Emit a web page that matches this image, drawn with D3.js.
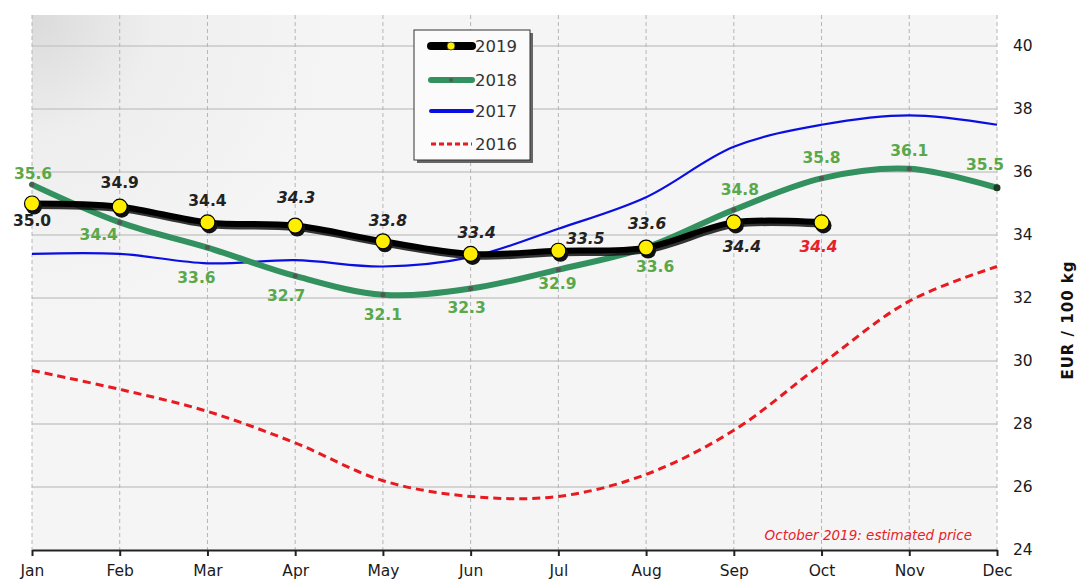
<!DOCTYPE html>
<html>
<head>
<meta charset="utf-8">
<script src="https://cdn.jsdelivr.net/npm/d3@7"></script>
<style>
  html, body { margin: 0; padding: 0; background: #fff; }
  svg { display: block; font-family: "DejaVu Sans", Verdana, sans-serif; }
</style>
</head>
<body>
<svg id="chart" width="1080" height="581"></svg>
<script>
// Monthly prices, EUR / 100 kg
const months = ["Jan", "Feb", "Mar", "Apr", "May", "Jun", "Jul", "Aug", "Sep", "Oct", "Nov", "Dec"];
const values2019 = [35.0, 34.9, 34.4, 34.3, 33.8, 33.4, 33.5, 33.6, 34.4, 34.4];
const values2018 = [35.6, 34.4, 33.6, 32.7, 32.1, 32.3, 32.9, 33.6, 34.8, 35.8, 36.1, 35.5];
const values2017 = [33.4, 33.4, 33.1, 33.2, 33.0, 33.3, 34.2, 35.2, 36.8, 37.5, 37.8, 37.5];
const values2016 = [29.7, 29.1, 28.4, 27.4, 26.2, 25.7, 25.7, 26.4, 27.8, 29.9, 31.9, 33.0];
const yTicks = [24, 26, 28, 30, 32, 34, 36, 38, 40];
const legendYears = ["2019", "2018", "2017", "2016"];
const noteText = "October 2019: estimated price";
const axisTitle = "EUR / 100 kg";

// Label offsets (dx, dy of text centre relative to the point)
const labelOffset2019 = [[0, 17], [0, -24], [0, -21], [1, -28], [5, -20], [6, -21], [27, -12], [1, -24], [8, 25], [-3, 25]];
const italic2019 = [false, false, false, true, true, true, true, true, true, true];
const labelOffset2018 = [[1, -11], [-21, 13], [-11, 30], [-9, 20], [0, 20], [-4, 19], [-1, 14], [9, 19], [6, -20], [0, -20], [0, -18], [-12, -23]];

const svg = d3.select("#chart");
const left = 32, right = 997, plotTop = 15, bottom = 550;

const x = d3.scalePoint().domain(months).range([left, right]);
const y = d3.scaleLinear().domain([24, 40]).range([bottom, 46]);

// Plot background with shaded top-left corner
const defs = svg.append("defs");
const grad = defs.append("radialGradient")
  .attr("id", "bgShade")
  .attr("gradientUnits", "userSpaceOnUse")
  .attr("cx", left).attr("cy", plotTop).attr("r", 300);
grad.append("stop").attr("offset", "0%").attr("stop-color", "#dadada");
grad.append("stop").attr("offset", "40%").attr("stop-color", "#eeeeee");
grad.append("stop").attr("offset", "100%").attr("stop-color", "#f5f5f5");

svg.append("rect")
  .attr("x", left).attr("y", plotTop)
  .attr("width", right - left).attr("height", bottom - plotTop)
  .attr("fill", "#f5f5f5");
svg.append("rect")
  .attr("x", left).attr("y", plotTop)
  .attr("width", right - left).attr("height", bottom - plotTop)
  .attr("fill", "url(#bgShade)");

// Horizontal grid
svg.append("g").selectAll("line")
  .data(yTicks.filter(d => d !== 24))
  .join("line")
  .attr("x1", left).attr("x2", right)
  .attr("y1", d => y(d)).attr("y2", d => y(d))
  .attr("stroke", "#c9c9c9").attr("stroke-width", 1.5);

// Vertical dashed grid
svg.append("g").selectAll("line")
  .data(months)
  .join("line")
  .attr("x1", d => x(d)).attr("x2", d => x(d))
  .attr("y1", plotTop).attr("y2", bottom)
  .attr("stroke", "#b5b5b5").attr("stroke-width", 1)
  .attr("stroke-dasharray", "4,3");

// Bottom axis
const xAxis = d3.axisBottom(x).tickSize(6).tickSizeOuter(0).tickPadding(9);
const gx = svg.append("g").attr("transform", `translate(0,${bottom})`).call(xAxis);
gx.select(".domain").attr("stroke", "#222").attr("stroke-width", 2);
gx.selectAll(".tick line").attr("stroke", "#222").attr("stroke-width", 2);
gx.selectAll(".tick text")
  .attr("font-size", 15.5).attr("fill", "#1a1a1a")
  .attr("font-family", "DejaVu Sans, Verdana, sans-serif");

// Right value axis (labels only)
const yAxis = d3.axisRight(y).tickValues(yTicks).tickSize(0).tickPadding(16);
const gy = svg.append("g").attr("transform", `translate(${right},0)`).call(yAxis);
gy.select(".domain").remove();
gy.selectAll(".tick text")
  .attr("font-size", 15.5).attr("fill", "#1a1a1a")
  .attr("font-family", "DejaVu Sans, Verdana, sans-serif");

svg.append("text")
  .attr("transform", "translate(1068,320) rotate(-90)")
  .attr("text-anchor", "middle")
  .attr("dominant-baseline", "central")
  .attr("font-size", 15).attr("font-weight", "bold").attr("fill", "#111")
  .attr("letter-spacing", 1)
  .text(axisTitle);

const line = d3.line()
  .x((d, i) => x(months[i]))
  .y(d => y(d))
  .curve(d3.curveCatmullRom.alpha(0.5));

// 2016
svg.append("path").datum(values2016)
  .attr("d", line).attr("fill", "none")
  .attr("stroke", "#e8191f").attr("stroke-width", 3)
  .attr("stroke-dasharray", "8,5");

// 2017
svg.append("path").datum(values2017)
  .attr("d", line).attr("fill", "none")
  .attr("stroke", "#0a0ee0").attr("stroke-width", 2.2);

// 2018
svg.append("path").datum(values2018)
  .attr("d", line).attr("fill", "none")
  .attr("stroke", "#33905f").attr("stroke-width", 6)
  .attr("stroke-linecap", "round");
svg.append("g").selectAll("circle")
  .data(values2018)
  .join("circle")
  .attr("cx", (d, i) => x(months[i]))
  .attr("cy", d => y(d))
  .attr("r", (d, i) => i === values2018.length - 1 ? 3.5 : 2.5)
  .attr("fill", (d, i) => i === values2018.length - 1 ? "#1f3a25" : "#555");

// 2019 with shadow
svg.append("path").datum(values2019)
  .attr("d", line).attr("fill", "none")
  .attr("transform", "translate(1.5,2.5)")
  .attr("stroke", "#111").attr("stroke-width", 6).attr("opacity", 0.85);
svg.append("path").datum(values2019)
  .attr("d", line).attr("fill", "none")
  .attr("stroke", "#000").attr("stroke-width", 6)
  .attr("stroke-linejoin", "round");
const m19 = svg.append("g");
m19.selectAll("circle.shadow")
  .data(values2019)
  .join("circle").attr("class", "shadow")
  .attr("cx", (d, i) => x(months[i]) + 2)
  .attr("cy", d => y(d) + 3)
  .attr("r", 8).attr("fill", "#111");
m19.selectAll("circle.dot")
  .data(values2019)
  .join("circle").attr("class", "dot")
  .attr("cx", (d, i) => x(months[i]))
  .attr("cy", d => y(d))
  .attr("r", 7.5).attr("fill", "#ffee00")
  .attr("stroke", "#000").attr("stroke-width", 1.2);

// 2018 value labels
svg.append("g").selectAll("text")
  .data(values2018)
  .join("text")
  .attr("x", (d, i) => x(months[i]) + labelOffset2018[i][0])
  .attr("y", (d, i) => y(d) + labelOffset2018[i][1])
  .attr("text-anchor", "middle").attr("dominant-baseline", "central")
  .attr("font-size", 15.5).attr("font-weight", "bold")
  .attr("fill", "#5aa84a")
  .text(d => d.toFixed(1));

// 2019 value labels
svg.append("g").selectAll("text")
  .data(values2019)
  .join("text")
  .attr("x", (d, i) => x(months[i]) + labelOffset2019[i][0])
  .attr("y", (d, i) => y(d) + labelOffset2019[i][1])
  .attr("text-anchor", "middle").attr("dominant-baseline", "central")
  .attr("font-size", 15.5).attr("font-weight", "bold")
  .attr("font-style", (d, i) => italic2019[i] ? "italic" : "normal")
  .attr("fill", (d, i) => i === values2019.length - 1 ? "#e8202a" : "#222")
  .text(d => d.toFixed(1));

// Note
svg.append("text")
  .attr("x", 972).attr("y", 535)
  .attr("text-anchor", "end").attr("dominant-baseline", "central")
  .attr("font-size", 13.5).attr("font-style", "italic")
  .attr("fill", "#e8202a")
  .text(noteText);

// Legend
const lg = svg.append("g").attr("transform", "translate(414,30)");
lg.append("rect").attr("x", 3).attr("y", 3).attr("width", 116).attr("height", 130)
  .attr("fill", "#666");
lg.append("rect").attr("x", 0).attr("y", 0).attr("width", 116).attr("height", 130)
  .attr("fill", "#fbfbfb").attr("stroke", "#333").attr("stroke-width", 1);
const rowY = [16, 50, 81, 114];
const legendStyles = [
  { color: "#000", width: 8, dash: null },
  { color: "#33905f", width: 6, dash: null },
  { color: "#0a0ee0", width: 4, dash: null },
  { color: "#e8191f", width: 3, dash: "5,3" }
];
legendYears.forEach((yr, i) => {
  const st = legendStyles[i];
  lg.append("line")
    .attr("x1", 17).attr("x2", 58)
    .attr("y1", rowY[i]).attr("y2", rowY[i])
    .attr("stroke", st.color).attr("stroke-width", st.width)
    .attr("stroke-linecap", st.dash ? "butt" : "round")
    .attr("stroke-dasharray", st.dash);
  lg.append("text")
    .attr("x", 61).attr("y", rowY[i])
    .attr("dominant-baseline", "central")
    .attr("font-size", 16.5).attr("fill", "#333")
    .text(yr);
});
lg.append("circle").attr("cx", 37).attr("cy", rowY[0]).attr("r", 4)
  .attr("fill", "#ffee00").attr("stroke", "#333").attr("stroke-width", 0.8);
lg.append("circle").attr("cx", 37).attr("cy", rowY[1]).attr("r", 2)
  .attr("fill", "#555");
</script>
</body>
</html>
